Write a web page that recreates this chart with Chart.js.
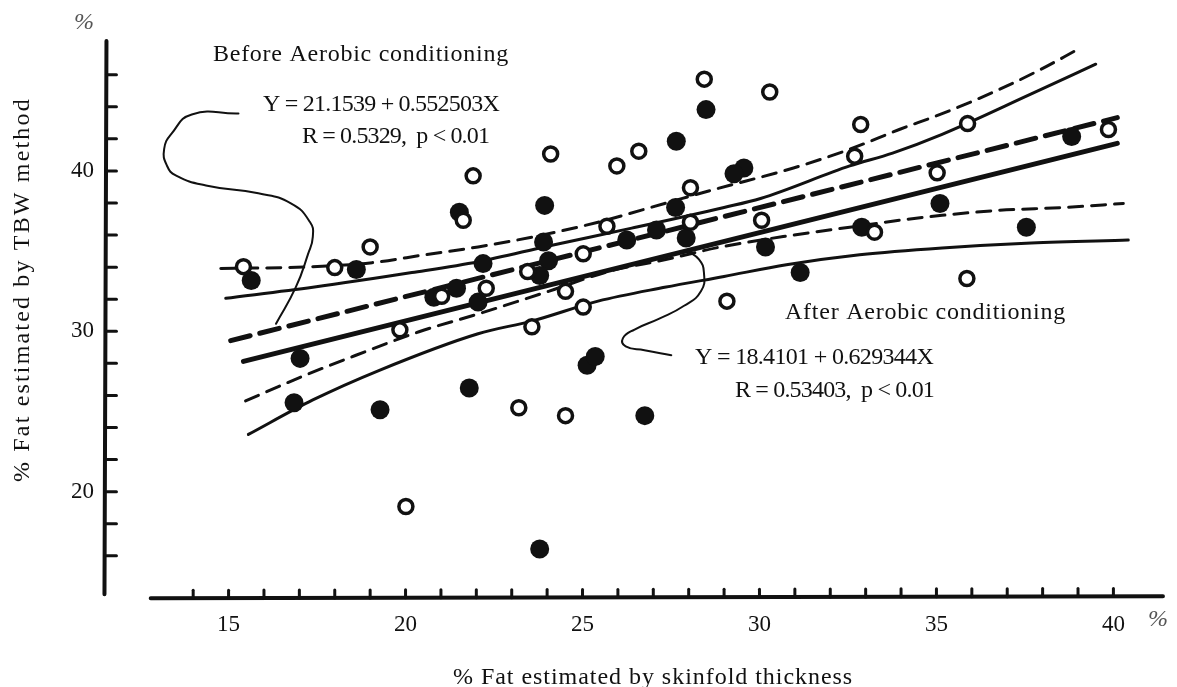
<!DOCTYPE html>
<html>
<head>
<meta charset="utf-8">
<script src="https://cdn.jsdelivr.net/npm/chart.js@4.4.1/dist/chart.umd.min.js"></script>
<style>
  html, body { margin: 0; padding: 0; background: #fff; }
  #wrap { width: 1177px; height: 687px; }
</style>
</head>
<body>
<div id="wrap"><canvas id="chart" width="1177" height="687"></canvas></div>
<script>
// 측정값 [skinfold %, TBW %] - 그림에서 읽은 값
const openCircles = [
  [15.42, 34.03], [18.00, 33.97], [19.00, 35.26], [21.91, 39.69], [21.63, 36.92],
  [21.02, 32.18], [19.84, 30.09], [22.28, 32.68], [23.45, 33.72], [24.10, 41.05],
  [25.02, 34.83], [24.52, 32.49], [25.02, 31.51], [23.57, 30.28], [25.69, 36.55],
  [25.97, 40.31], [26.59, 41.23], [28.05, 38.95], [28.05, 36.80], [28.44, 45.72],
  [30.29, 44.92], [30.06, 36.92], [29.08, 31.88], [32.86, 42.89], [32.69, 40.92],
  [33.25, 36.18], [35.02, 39.88], [35.88, 42.95], [35.86, 33.29], [39.86, 42.58],
  [23.20, 25.23], [24.52, 24.74], [20.01, 19.08]
];
const filledCircles = [
  [15.64, 33.17], [18.61, 33.85], [21.52, 37.42], [20.80, 32.12], [21.44, 32.68],
  [22.19, 34.22], [22.05, 31.82], [17.02, 28.31], [16.85, 25.54], [19.28, 25.11],
  [21.80, 26.46], [23.93, 37.85], [23.90, 35.57], [24.04, 34.40], [23.79, 33.48],
  [25.13, 27.88], [25.36, 28.43], [26.76, 24.74], [23.79, 16.43], [26.25, 35.69],
  [27.09, 36.31], [27.63, 37.72], [27.93, 35.82], [27.65, 41.85], [28.49, 43.82],
  [29.56, 40.18], [29.28, 39.82], [30.17, 35.26], [31.15, 33.66], [32.89, 36.49],
  [35.10, 37.97], [37.54, 36.49], [38.82, 42.15]
];

// 회귀선 (Before: 굵은 점선, After: 굵은 실선)
const beforeLine = [[15.06, 29.42], [40.11, 43.32]];
const afterLine = [[15.42, 28.12], [40.11, 41.72]];

// 신뢰대
const beforeUpper = [
  [14.78, 33.91], [17.38, 34.03], [19.06, 34.28], [20.54, 34.77], [22.05, 35.26],
  [23.59, 35.88], [25.44, 36.80], [27.32, 37.97], [28.80, 38.89], [30.96, 40.18],
  [32.55, 41.35], [33.95, 42.58], [35.16, 43.57], [36.75, 45.05], [37.96, 46.34],
  [38.94, 47.51]
];
const beforeLower = [
  [15.48, 25.66], [17.10, 27.20], [18.58, 28.49], [20.38, 29.97], [22.05, 31.08],
  [24.04, 32.49], [25.72, 33.72], [27.32, 34.46], [28.91, 35.26], [30.96, 36.00],
  [32.55, 36.49], [33.95, 36.92], [35.16, 37.23], [36.75, 37.54], [38.60, 37.72],
  [40.28, 37.97]
];
const afterUpper = [
  [14.92, 32.06], [17.38, 32.74], [20.18, 33.66], [22.05, 34.34], [24.04, 35.32],
  [26.39, 36.43], [29.00, 37.72], [30.03, 38.28], [32.55, 40.31], [33.76, 41.11],
  [35.16, 42.28], [37.68, 44.80], [39.50, 46.65]
];
const afterLower = [
  [15.56, 23.57], [17.38, 25.72], [19.26, 27.57], [22.05, 29.85], [23.59, 30.65],
  [25.44, 31.88], [27.32, 32.74], [29.00, 33.42], [30.76, 34.15], [32.83, 34.77],
  [35.16, 35.20], [37.68, 35.51], [40.42, 35.69]
];

// 식에서 선으로 이어지는 손그림 곡선
const beforeLeader = [
  [15.28, 43.58], [13.96, 43.52], [13.40, 42.35], [13.18, 41.37], [13.26, 40.32],
  [13.52, 39.71], [14.36, 39.09], [15.84, 38.60], [16.76, 37.98], [17.30, 36.81],
  [17.38, 35.89], [17.24, 34.78], [16.90, 32.75], [16.34, 30.47]
];
const afterLeader = [
  [27.51, 28.51], [26.75, 28.82], [26.22, 29.06], [26.14, 29.56], [26.47, 30.11],
  [27.17, 30.79], [27.87, 31.59], [28.35, 32.51], [28.43, 33.68], [28.29, 34.48],
  [27.95, 35.04]
];

// 눈금 라벨
const xTickLabels = [15, 20, 25, 30, 35, 40];
const yTickLabels = [20, 30, 40];

const ink = '#111';
const serif = '"Liberation Serif", "DejaVu Serif", serif';
const toXY = (arr) => arr.map(([x, y]) => ({ x, y }));

const lineSet = (data, width, dash, tension, mode) => ({
  data: toXY(data),
  showLine: true,
  borderColor: ink,
  borderWidth: width,
  borderDash: dash,
  borderCapStyle: 'round',
  pointRadius: 0,
  tension: tension,
  cubicInterpolationMode: mode || 'default',
  fill: false,
});

// 글자 폭을 원본에 맞춤 (letterSpacing)
const fitText = (ctx, text, x, y, width) => {
  ctx.letterSpacing = '0px';
  const w = ctx.measureText(text).width;
  if (width) {
    ctx.letterSpacing = ((width - w) / text.length).toFixed(2) + 'px';
  }
  ctx.fillText(text, x, y);
  ctx.letterSpacing = '0px';
};

const paperAxes = {
  id: 'paperAxes',
  beforeDatasetsDraw(chart) {
    const { ctx, scales: { x, y } } = chart;
    ctx.save();
    ctx.strokeStyle = ink;
    ctx.lineCap = 'round';

    // 세로축 (안쪽으로 향한 눈금)
    const ax = x.getPixelForValue(11.55);
    ctx.lineWidth = 4;
    ctx.beginPath();
    ctx.moveTo(ax, y.getPixelForValue(48.1));
    ctx.lineTo(ax - 2, y.getPixelForValue(13.6));
    ctx.stroke();
    ctx.lineWidth = 3;
    for (let v = 16; v <= 46; v += 2) {
      const py = y.getPixelForValue(v);
      ctx.beginPath();
      ctx.moveTo(ax, py);
      ctx.lineTo(ax + 10, py);
      ctx.stroke();
    }

    // 가로축
    const ay = y.getPixelForValue(13.35);
    ctx.lineWidth = 4;
    ctx.beginPath();
    ctx.moveTo(x.getPixelForValue(12.8), ay);
    ctx.lineTo(x.getPixelForValue(41.4), ay - 2);
    ctx.stroke();
    ctx.lineWidth = 3;
    for (let v = 14; v <= 40; v++) {
      const px = x.getPixelForValue(v);
      const dy = ay - 2 * (v - 12.8) / 28.6;
      ctx.beginPath();
      ctx.moveTo(px, dy);
      ctx.lineTo(px, dy - 8);
      ctx.stroke();
    }
    ctx.restore();
  },
  afterDraw(chart) {
    const { ctx, scales: { x, y } } = chart;
    ctx.save();
    ctx.fillStyle = ink;

    // 눈금 라벨
    ctx.font = '23px ' + serif;
    ctx.textBaseline = 'middle';
    ctx.textAlign = 'center';
    xTickLabels.forEach((v) => ctx.fillText(String(v), x.getPixelForValue(v), 625));
    ctx.textAlign = 'right';
    yTickLabels.forEach((v) => ctx.fillText(String(v), 94, y.getPixelForValue(v)));

    // % 기호
    ctx.fillStyle = '#555';
    ctx.textAlign = 'center';
    ctx.font = 'italic 24px ' + serif;
    ctx.fillText('%', 84, 23);
    ctx.fillText('%', 1158, 620);

    // 설명 글
    ctx.fillStyle = ink;
    ctx.textAlign = 'left';
    ctx.textBaseline = 'alphabetic';
    ctx.font = '24px ' + serif;
    fitText(ctx, 'Before Aerobic conditioning', 213, 61, 296);
    fitText(ctx, 'Y = 21.1539 + 0.552503X', 263, 111, 236);
    fitText(ctx, 'R = 0.5329,  p < 0.01', 302, 143, 187);
    fitText(ctx, 'After Aerobic conditioning', 785, 319, 281);
    fitText(ctx, 'Y = 18.4101 + 0.629344X', 695, 364, 238);
    fitText(ctx, 'R = 0.53403,  p < 0.01', 735, 397, 199);

    // 축 제목
    ctx.font = '24px ' + serif;
    fitText(ctx, '% Fat estimated by skinfold thickness', 453, 684, 400);
    ctx.translate(29, 482);
    ctx.rotate(-Math.PI / 2);
    fitText(ctx, '% Fat estimated by TBW method', 0, 0, 385);
    ctx.restore();
  }
};

new Chart(document.getElementById('chart'), {
  type: 'scatter',
  data: {
    datasets: [
      {
        data: toXY(openCircles),
        pointRadius: 7,
        borderWidth: 3.5,
        borderColor: ink,
        backgroundColor: '#fff',
      },
      {
        data: toXY(filledCircles),
        pointRadius: 9.5,
        borderWidth: 0,
        backgroundColor: ink,
      },
      lineSet(beforeLine, 5, [20, 10], 0),
      lineSet(afterLine, 5, [], 0),
      lineSet(beforeUpper, 3, [14, 9], 0.4, 'monotone'),
      lineSet(beforeLower, 3, [14, 9], 0.4, 'monotone'),
      lineSet(afterUpper, 3, [], 0.4, 'monotone'),
      lineSet(afterLower, 3, [], 0.4, 'monotone'),
      // 손그림 곡선은 부드럽게
      lineSet(beforeLeader, 2, [], 0.5),
      lineSet(afterLeader, 2, [], 0.5),
    ],
  },
  options: {
    responsive: false,
    animation: false,
    events: [],
    clip: false,
    layout: { padding: { left: 87, right: 0, top: 3, bottom: 67 } },
    plugins: {
      legend: { display: false },
      tooltip: { enabled: false },
    },
    scales: {
      x: { type: 'linear', min: 11, max: 41.5, display: false },
      y: { type: 'linear', min: 12, max: 50, display: false },
    },
  },
  plugins: [paperAxes],
});
</script>
</body>
</html>
